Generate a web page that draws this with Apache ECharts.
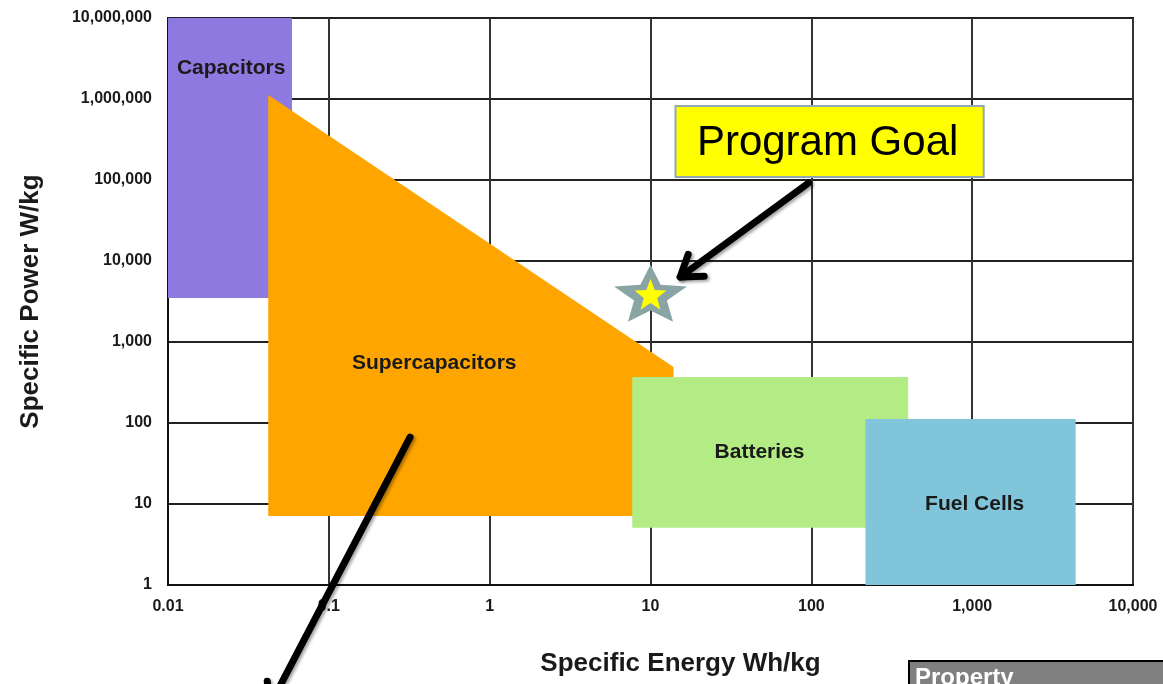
<!DOCTYPE html>
<html>
<head>
<meta charset="utf-8">
<script src="https://cdn.jsdelivr.net/npm/echarts@6/dist/echarts.min.js"></script>
<style>
  html, body { margin: 0; padding: 0; background: #fff; }
  #main { width: 1163px; height: 684px; }
</style>
</head>
<body>
<div id="main"></div>
<script>
// region outlines, [specific energy Wh/kg, specific power W/kg]
var regionNames = ['Capacitors', 'Supercapacitors', 'Batteries', 'Fuel Cells'];
var capacitorsPoly = [[0.01, 3500], [0.059, 3500], [0.059, 1e7], [0.01, 1e7]];
var supercapacitorsPoly = [[0.042, 1.12e6], [13.9, 490], [13.9, 7.1], [0.042, 7.1]];
var batteriesPoly = [[7.7, 5.1], [400, 5.1], [400, 370], [7.7, 370]];
var fuelCellsPoly = [[217, 1], [4400, 1], [4400, 112], [217, 112]];
var labelAnchors = [[0.0247, 2.4e6], [0.452, 551], [47.6, 44], [1037, 10]];

// target point
var programGoal = [10, 4000];
var goalBox = [[14.3, 820000], [1180, 109000]];

// callout arrows [from, to]
var arrows = [
    [[96, 91800], [15.3, 6340]],
    [[0.32, 67], [0.0431, 0.033]]
];

var regionColors = ['#8e79e0', '#ffa500', '#b3eb84', '#80c5da'];
var polys = [capacitorsPoly, supercapacitorsPoly, batteriesPoly, fuelCellsPoly];
var FONT = '"Liberation Sans", Arial, sans-serif';

function starPath(inner) {
    var s = 'path://';
    for (var i = 0; i < 10; i++) {
        var r = i % 2 === 0 ? 50 : 50 * inner;
        var a = (-90 + i * 36) * Math.PI / 180;
        s += (i === 0 ? 'M' : 'L') + (50 + r * Math.cos(a)).toFixed(2) + ',' + (50 + r * Math.sin(a)).toFixed(2);
    }
    return s + 'Z';
}

function fmt(v) {
    if (v < 1) return String(+v.toPrecision(3));
    return Math.round(v).toLocaleString('en-US');
}

var chart = echarts.init(document.getElementById('main'));

var option = {
    backgroundColor: '#fff',
    animation: false,
    grid: {
        left: 168, right: 30, top: 18, bottom: 99,
        outerBoundsMode: 'none',
        containLabel: false,
        show: true, borderColor: '#111', borderWidth: 2
    },
    xAxis: {
        type: 'log', logBase: 10, min: 0.01, max: 10000,
        name: 'Specific Energy Wh/kg',
        nameLocation: 'middle',
        nameGap: 66,
        nameTextStyle: { fontFamily: FONT, fontWeight: 'bold', fontSize: 26, color: '#1a1a1a', padding: [0, 0, 0, 60] },
        axisLine: { show: true, lineStyle: { color: '#111', width: 2 } },
        axisTick: { show: false },
        axisLabel: { formatter: fmt, margin: 14, fontFamily: FONT, fontWeight: 'bold', fontSize: 16, color: '#1a1a1a' },
        splitLine: { show: true, lineStyle: { color: '#333', width: 2 } },
        minorSplitLine: { show: false }
    },
    yAxis: {
        type: 'log', logBase: 10, min: 1, max: 1e7,
        name: 'Specific Power W/kg',
        nameLocation: 'middle',
        nameGap: 124,
        nameTextStyle: { fontFamily: FONT, fontWeight: 'bold', fontSize: 26, color: '#1a1a1a' },
        axisLine: { show: true, lineStyle: { color: '#111', width: 2 } },
        axisTick: { show: false },
        axisLabel: { formatter: fmt, margin: 16, fontFamily: FONT, fontWeight: 'bold', fontSize: 16, color: '#1a1a1a' },
        splitLine: { show: true, lineStyle: { color: '#222', width: 2 } }
    },
    series: [
        {
            name: 'regions',
            type: 'custom',
            coordinateSystem: 'cartesian2d',
            clip: false,
            z: 2,
            data: regionNames.map(function (n, i) { return { name: n, value: labelAnchors[i] }; }),
            renderItem: function (params, api) {
                var i = params.dataIndex;
                var pts = polys[i].map(function (p) { return api.coord(p); });
                var c = api.coord(labelAnchors[i]);
                return {
                    type: 'group',
                    children: [
                        { type: 'polygon', shape: { points: pts }, style: { fill: regionColors[i] } },
                        {
                            type: 'text', z2: 10,
                            style: {
                                text: regionNames[i], x: c[0], y: c[1],
                                align: 'center', verticalAlign: 'middle',
                                font: 'bold 21px ' + FONT, fill: '#1a1a1a'
                            }
                        }
                    ]
                };
            }
        },
        {
            name: 'goal star outer',
            type: 'scatter',
            z: 4,
            data: [programGoal],
            symbol: starPath(0.45),
            symbolSize: [73, 57],
            itemStyle: { color: '#8aa4a6', opacity: 1 }
        },
        {
            name: 'goal star inner',
            type: 'scatter',
            z: 5,
            data: [programGoal],
            symbol: starPath(0.42),
            symbolSize: [32, 31],
            symbolOffset: [0, 1],
            itemStyle: { color: '#ffff00', opacity: 1 }
        },
        {
            name: 'goal box',
            type: 'custom',
            coordinateSystem: 'cartesian2d',
            clip: false,
            z: 6,
            data: [goalBox[0]],
            renderItem: function (params, api) {
                var a = api.coord(goalBox[0]), b = api.coord(goalBox[1]);
                return {
                    type: 'group',
                    children: [
                        {
                            type: 'rect',
                            shape: { x: a[0], y: a[1], width: b[0] - a[0], height: b[1] - a[1] },
                            style: { fill: '#ffff00', stroke: '#93a8b4', lineWidth: 2 }
                        },
                        {
                            type: 'text',
                            style: {
                                text: 'Program Goal', x: (a[0] + b[0]) / 2 - 2, y: (a[1] + b[1]) / 2 + 2,
                                align: 'center', verticalAlign: 'middle',
                                font: '42px ' + FONT, fill: '#000'
                            }
                        }
                    ]
                };
            }
        },
        {
            name: 'arrows',
            type: 'custom',
            coordinateSystem: 'cartesian2d',
            clip: false,
            z: 7,
            data: arrows.map(function (a, i) { return [i]; }),
            renderItem: function (params, api) {
                var ar = arrows[params.dataIndex];
                var p0 = api.coord(ar[0]), p1 = api.coord(ar[1]);
                var ang = Math.atan2(p1[1] - p0[1], p1[0] - p0[0]);
                var L = 24, spread = 0.6;
                var h1 = [p1[0] - L * Math.cos(ang - spread), p1[1] - L * Math.sin(ang - spread)];
                var h2 = [p1[0] - L * Math.cos(ang + spread), p1[1] - L * Math.sin(ang + spread)];
                var st = {
                    stroke: '#000', lineWidth: 7, lineCap: 'round', lineJoin: 'round', fill: null,
                    shadowBlur: 3, shadowColor: 'rgba(0,0,0,0.35)', shadowOffsetX: 2, shadowOffsetY: 2
                };
                return {
                    type: 'group',
                    children: [
                        { type: 'line', shape: { x1: p0[0], y1: p0[1], x2: p1[0], y2: p1[1] }, style: st },
                        { type: 'polyline', shape: { points: [h1, p1, h2] }, style: st }
                    ]
                };
            }
        }
    ],
    graphic: [
        {
            type: 'group', left: 908, top: 660,
            children: [
                { type: 'rect', shape: { x: 0, y: 0, width: 262, height: 40 }, style: { fill: '#808080', stroke: '#000', lineWidth: 2 } },
                { type: 'text', x: 6, y: 5, style: { text: 'Property', font: 'bold 24px ' + FONT, fill: '#fff' } }
            ]
        }
    ]
};

chart.setOption(option);
</script>
</body>
</html>
